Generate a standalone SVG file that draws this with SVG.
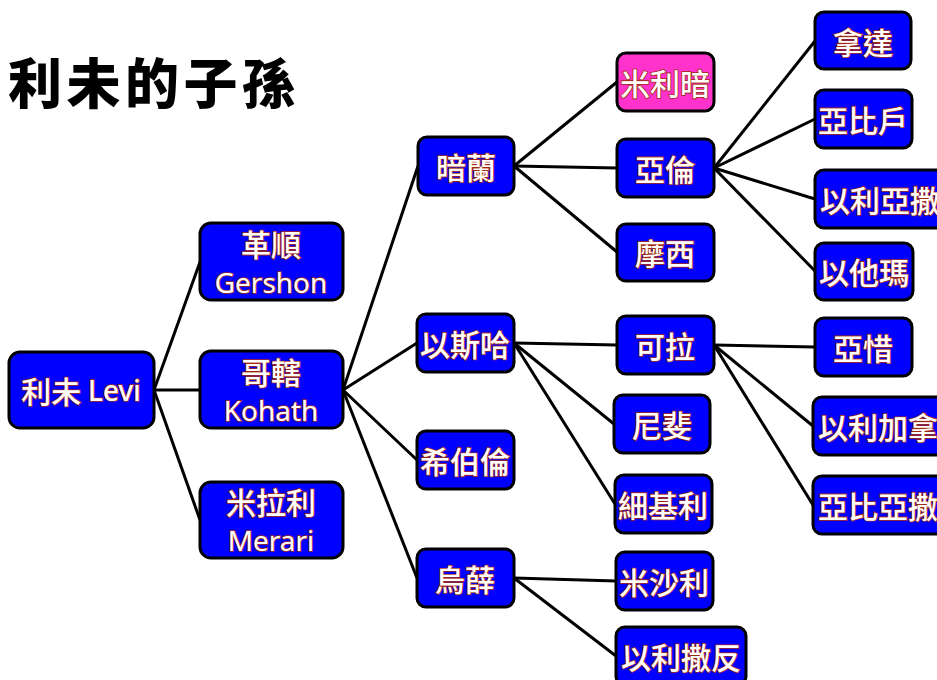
<svg xmlns="http://www.w3.org/2000/svg" width="937" height="680" viewBox="0 0 937 680">
<style>
.n rect{fill:#0000ff;stroke:#000;stroke-width:3}
.n.p rect{fill:#ff33cc}
.n text{font-family:"Noto Sans CJK TC","Noto Sans",sans-serif;font-size:30px;font-weight:500;fill:#fff;stroke:#a02a10;stroke-width:1.6;paint-order:stroke;text-anchor:middle;dominant-baseline:central}
.n text.l{font-family:"Noto Sans","Noto Sans CJK TC",sans-serif;font-size:28px;font-weight:400}
#edges line{stroke:#000;stroke-width:3}
.t{font-family:"Noto Sans CJK TC",sans-serif;font-size:54px;font-weight:900;fill:#000}
</style>
<rect width="937" height="680" fill="#fff"/>
<text class="t" x="8" y="104" textLength="288">利未的子孫</text>
<g id="edges">
<line x1="154" y1="390" x2="200" y2="262"/>
<line x1="154" y1="390" x2="200" y2="390"/>
<line x1="154" y1="390" x2="200" y2="520"/>
<line x1="343" y1="390" x2="418" y2="166"/>
<line x1="343" y1="390" x2="417" y2="343"/>
<line x1="343" y1="390" x2="417" y2="460"/>
<line x1="343" y1="390" x2="417" y2="578"/>
<line x1="514" y1="166" x2="617" y2="82"/>
<line x1="514" y1="166" x2="617" y2="168"/>
<line x1="514" y1="166" x2="617" y2="252"/>
<line x1="714" y1="168" x2="815" y2="41"/>
<line x1="714" y1="168" x2="815" y2="119"/>
<line x1="714" y1="168" x2="815" y2="199"/>
<line x1="714" y1="168" x2="815" y2="271"/>
<line x1="514" y1="343" x2="617" y2="345"/>
<line x1="514" y1="343" x2="614" y2="424"/>
<line x1="514" y1="343" x2="615" y2="504"/>
<line x1="714" y1="345" x2="815" y2="347"/>
<line x1="714" y1="345" x2="813" y2="426"/>
<line x1="714" y1="345" x2="813" y2="505"/>
<line x1="514" y1="578" x2="616" y2="581"/>
<line x1="514" y1="578" x2="616" y2="656"/>
</g>
<g id="levi" class="n"><rect x="9" y="352" width="145" height="76" rx="11"/><text x="81" y="390">利未 <tspan style="font-family:'Noto Sans',sans-serif;font-size:28px">Levi</tspan></text></g>
<g id="gershon" class="n"><rect x="200" y="223" width="143" height="77" rx="11"/><text x="271" y="243">革順</text><text class="l" x="271" y="282">Gershon</text></g>
<g id="kohath" class="n"><rect x="200" y="351" width="143" height="77" rx="11"/><text x="271" y="371">哥轄</text><text class="l" x="271" y="410">Kohath</text></g>
<g id="merari" class="n"><rect x="200" y="482" width="143" height="76" rx="11"/><text x="271" y="501">米拉利</text><text class="l" x="271" y="540">Merari</text></g>
<g id="amram" class="n"><rect x="418" y="137" width="96" height="58" rx="9"/><text x="466" y="166">暗蘭</text></g>
<g id="izhar" class="n"><rect x="417" y="314" width="97" height="58" rx="9"/><text x="465" y="343">以斯哈</text></g>
<g id="hebron" class="n"><rect x="417" y="431" width="97" height="58" rx="9"/><text x="465" y="460">希伯倫</text></g>
<g id="uzziel" class="n"><rect x="417" y="549" width="97" height="58" rx="9"/><text x="465" y="578">烏薛</text></g>
<g id="miriam" class="n p"><rect x="617" y="53" width="97" height="58" rx="9"/><text x="665" y="82">米利暗</text></g>
<g id="aaron" class="n"><rect x="617" y="139" width="97" height="58" rx="9"/><text x="665" y="168">亞倫</text></g>
<g id="moses" class="n"><rect x="617" y="224" width="97" height="57" rx="9"/><text x="665" y="252">摩西</text></g>
<g id="korah" class="n"><rect x="617" y="316" width="97" height="58" rx="9"/><text x="665" y="345">可拉</text></g>
<g id="nepheg" class="n"><rect x="614" y="395" width="96" height="58" rx="9"/><text x="662" y="424">尼斐</text></g>
<g id="zichri" class="n"><rect x="615" y="475" width="97" height="58" rx="9"/><text x="663" y="504">細基利</text></g>
<g id="mishael" class="n"><rect x="616" y="552" width="97" height="58" rx="9"/><text x="664" y="581">米沙利</text></g>
<g id="elzaphan" class="n"><rect x="616" y="627" width="130" height="58" rx="9"/><text x="681" y="656">以利撒反</text></g>
<g id="nadab" class="n"><rect x="815" y="12" width="96" height="57" rx="9"/><text x="863" y="41">拿達</text></g>
<g id="abihu" class="n"><rect x="815" y="90" width="97" height="58" rx="9"/><text x="863" y="119">亞比戶</text></g>
<g id="eleazar" class="n"><rect x="815" y="170" width="135" height="58" rx="9"/><text x="880" y="199">以利亞撒</text></g>
<g id="ithamar" class="n"><rect x="815" y="243" width="98" height="57" rx="9"/><text x="864" y="271">以他瑪</text></g>
<g id="assir" class="n"><rect x="815" y="318" width="97" height="58" rx="9"/><text x="863" y="347">亞惜</text></g>
<g id="elkanah" class="n"><rect x="813" y="397" width="137" height="58" rx="9"/><text x="878" y="426">以利加拿</text></g>
<g id="abiasaph" class="n"><rect x="813" y="476" width="137" height="58" rx="9"/><text x="878" y="505">亞比亞撒</text></g>
</svg>
